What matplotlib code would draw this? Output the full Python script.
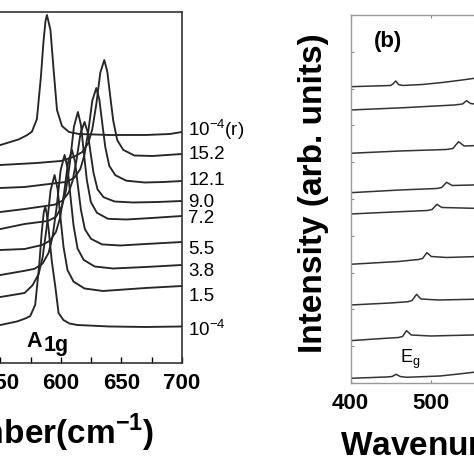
import numpy as np
import matplotlib as mpl
import matplotlib.pyplot as plt
from matplotlib.ticker import MultipleLocator

# 폰트 설정 (굵은 산세리프)
mpl.rcParams['font.family'] = ['Liberation Sans', 'DejaVu Sans']
mpl.rcParams['mathtext.fontset'] = 'custom'
mpl.rcParams['mathtext.rm'] = 'Liberation Sans'
mpl.rcParams['mathtext.bf'] = 'Liberation Sans:bold'

# ---- (a) A1g 영역 스펙트럼, 압력(GPa) 순서대로 아래에서 위로 ----
pressure_labels = ['10$^{-4}$', '1.5', '3.8', '5.5', '7.2', '9.0', '12.1', '15.2', '10$^{-4}$(r)']

wn_p0 = [540, 550, 563.9, 570.5, 574.6, 578.7, 582, 584.1, 585.8, 587, 588.2, 589.9, 592.4, 595.3, 598, 602, 607, 613.4, 640, 670, 700]
int_p0 = [38, 38, 41.6, 44.5, 46.9, 58.2, 97.5, 130.8, 151, 156, 149.5, 132.5, 102, 76.5, 50, 43, 39.5, 38, 36.5, 36, 36.5]

wn_p1 = [540, 550, 569.9, 576.5, 581.5, 584.8, 588.1, 591.4, 594.7, 597.2, 599.7, 602.1, 605.4, 610.4, 619.5, 634.7, 670, 700]
int_p1 = [65, 66, 70, 77.7, 88.8, 105.5, 134.9, 172.5, 188, 174.1, 143.9, 116.1, 92.9, 81.3, 74.5, 72, 75, 77]

wn_p2 = [540, 550, 570, 578.2, 584.8, 589.8, 593.1, 596.4, 599.7, 603, 605.5, 608, 610.4, 613.7, 618.7, 627.8, 643, 670, 700]
int_p2 = [87, 88, 92.2, 94.2, 99.4, 110.2, 126.6, 155.7, 192.7, 208, 194.7, 164.8, 137.4, 114.5, 103.2, 96.5, 94.5, 96, 98]

wn_p3 = [540, 550, 570, 584.3, 590.9, 595.9, 599.2, 602.5, 605.8, 609.1, 611.6, 614.1, 616.5, 619.8, 624.8, 633.9, 649.1, 670, 700]
int_p3 = [112.5, 113, 114, 118, 122.3, 131.2, 144.9, 169.3, 200.4, 213, 201.4, 176.1, 153, 133.7, 124.2, 118.6, 117.5, 119, 121]

wn_p4 = [540, 550, 570, 589.2, 595.8, 600.8, 604.1, 607.4, 610.7, 614, 616.5, 619, 621.4, 624.7, 629.7, 638.8, 654, 675, 700]
int_p4 = [133, 134, 139, 142, 146.1, 156.6, 172.4, 200.5, 236.3, 251, 237.9, 209.2, 182.8, 160.9, 150.2, 144.2, 143.5, 145, 147]

wn_p5 = [540, 550, 570, 594.7, 601.3, 606.3, 609.6, 612.9, 616.2, 619.5, 622, 624.5, 626.9, 630.2, 635.2, 644.3, 659.5, 680, 700]
int_p5 = [150, 151, 154, 158.3, 162.4, 170.3, 182.2, 203.3, 230, 241, 231.2, 209.9, 190.1, 173.7, 165.8, 161.5, 160.5, 161, 162]

wn_p6 = [540, 550, 570, 604.4, 611, 616, 619.3, 622.6, 625.9, 629.2, 631.7, 634.2, 636.6, 639.9, 644.9, 654, 669.2, 685, 700]
int_p6 = [174, 175, 176, 181.1, 185.1, 194, 207.6, 231.7, 262.4, 275, 263.6, 238.9, 216.1, 197.2, 187.8, 182.3, 180.5, 181, 182]

wn_p7 = [540, 550, 580, 600, 611, 617.6, 622.6, 625.9, 629.2, 632.5, 635.8, 638.3, 640.8, 643.2, 646.5, 651.5, 660.6, 675.8, 700]
int_p7 = [197, 198, 200, 202, 206.4, 210.9, 220, 233.9, 258.7, 290.3, 303, 291.2, 265.8, 242.3, 222.8, 213.1, 207.5, 207, 209]

wn_p8 = [540, 550, 565.3, 571.9, 576, 580.1, 583.4, 585.5, 587.2, 588.4, 589.6, 591.3, 593.8, 596.7, 600.8, 606.6, 614.8, 640, 670, 690, 700]
int_p8 = [217, 218, 223.7, 227.8, 231.3, 244, 286, 320.7, 341.8, 348, 341.9, 333, 295, 253, 237, 231, 229, 228, 228, 229, 231]

# 라벨 높이 (오른쪽 바깥)
label_y = [33, 66, 91, 113, 144, 160, 182, 208, 233.5]

# ---- (b) Eg 영역 스펙트럼 ----
wn_b0 = [400, 445, 452, 457, 462, 470, 512, 535, 554, 580]
int_b0 = [4.7, 6, 6.5, 8.7, 6.5, 5.7, 7, 9, 10.7, 12]
wn_b1 = [400, 440, 460, 465, 470, 476, 500, 553, 580]
int_b1 = [42.3, 44.5, 45.5, 46.5, 52.3, 48, 47, 48, 49]
wn_b2 = [400, 450, 472, 477, 482.5, 488, 510, 553, 580]
int_b2 = [78, 80, 81.3, 82.5, 88.7, 84, 83, 83.7, 84.5]
wn_b3 = [400, 460, 485, 490, 495.5, 501, 520, 553, 580]
int_b3 = [118.7, 121.5, 123.5, 124.5, 130.3, 126.5, 125.5, 126.3, 127]
wn_b4 = [400, 462, 496, 502, 508, 514, 553, 580]
int_b4 = [169, 171.3, 172.5, 173.5, 178.7, 175.5, 174.7, 175.5]
wn_b5 = [400, 462, 508, 514, 520, 527, 553, 580]
int_b5 = [190.3, 193, 194.5, 195.5, 200.7, 197.5, 198, 199]
wn_b6 = [400, 462, 520, 528, 535, 542, 553, 580]
int_b6 = [229.7, 232, 233.5, 234.5, 241.3, 237, 237.3, 238]
wn_b7 = [400, 467, 530, 540, 545, 550, 555, 580]
int_b7 = [273, 275.3, 278, 279, 282.3, 279.5, 279, 280]
wn_b8 = [400, 430, 450, 453, 456.5, 460, 465, 490, 515, 535, 555, 580]
int_b8 = [296.3, 297, 297.5, 299, 302, 298.5, 297.5, 298.5, 300.5, 302.5, 304.7, 307]

a_curves = [(wn_p0, int_p0), (wn_p1, int_p1), (wn_p2, int_p2), (wn_p3, int_p3), (wn_p4, int_p4),
            (wn_p5, int_p5), (wn_p6, int_p6), (wn_p7, int_p7), (wn_p8, int_p8)]
b_curves = [(wn_b0, int_b0), (wn_b1, int_b1), (wn_b2, int_b2), (wn_b3, int_b3), (wn_b4, int_b4),
            (wn_b5, int_b5), (wn_b6, int_b6), (wn_b7, int_b7), (wn_b8, int_b8)]

fig = plt.figure(figsize=(4.74, 4.74), dpi=100)

# 왼쪽 패널은 그림 왼쪽 밖으로 잘려 있음
ax1 = fig.add_axes([-0.3819, 0.2342, 0.7658, 0.7405])
for wn, inten in a_curves:
    ax1.plot(wn, inten, color='#262626', lw=1.35)
ax1.set_xlim(400, 700)
ax1.set_ylim(0, 351)
ax1.set_yticks([])
ax1.set_xticks([400, 450, 500, 550, 600, 650, 700])
ax1.xaxis.set_minor_locator(MultipleLocator(25))
ax1.tick_params(axis='x', which='both', direction='in', length=4, width=1, labelsize=16, pad=7)
plt.setp(ax1.get_xticklabels(), fontweight='bold')
for sp in ax1.spines.values():
    sp.set_linewidth(1.2)
    sp.set_color('#333333')
ax1.set_xlabel(r'Wavenumber(cm$^{\mathbf{-1}}$)', fontsize=24, fontweight='bold', labelpad=13)

# 압력 라벨
for lab, ly in zip(pressure_labels, label_y):
    ax1.text(1.017, ly, lab, transform=ax1.get_yaxis_transform(), fontsize=13.5,
             ha='left', va='center', clip_on=False)

ax1.text(571.3, 16, 'A', fontsize=15.5, fontweight='bold')
ax1.text(585.4, 12, '1g', fontsize=15.5, fontweight='bold')

# 오른쪽 패널은 그림 오른쪽 밖으로 잘려 있음
ax2 = fig.add_axes([0.7395, 0.1920, 0.6076, 0.7764])
for wn, inten in b_curves:
    ax2.plot(wn, inten, color='#333333', lw=1.1)
ax2.set_xlim(400, 760)
ax2.set_ylim(0, 368)
ax2.set_xticks([400, 500, 600, 700])
ax2.set_yticks(np.linspace(0, 368, 11))
ax2.tick_params(axis='both', direction='in', length=2.5, color='#888888', top=True, right=True,
                labelleft=False, labelsize=16, pad=7)
plt.setp(ax2.get_xticklabels(), fontweight='bold')
for sp in ax2.spines.values():
    sp.set_linewidth(1.0)
    sp.set_color('#999999')
ax2.set_xlabel(r'Wavenumber(cm$^{\mathbf{-1}}$)', fontsize=24, fontweight='bold', labelpad=7)
ax2.set_ylabel('Intensity (arb. units)', fontsize=24, fontweight='bold', va='center')
ax2.yaxis.set_label_coords(-0.127, 0.516)

ax2.text(0.13, 0.927, '(b)', transform=ax2.transAxes, fontsize=16, fontweight='bold',
         ha='center', va='center')
ax2.text(462, 20, r'E$_{\mathrm{g}}$', fontsize=13)

fig.savefig('out.png', dpi=100)
